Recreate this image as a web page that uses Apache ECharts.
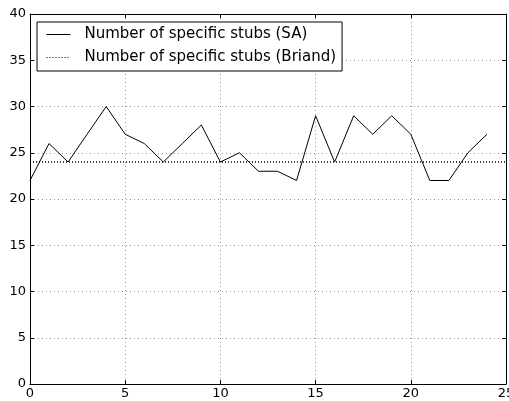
<!DOCTYPE html>
<html>
<head>
<meta charset="utf-8">
<script src="https://cdn.jsdelivr.net/npm/echarts@6/dist/echarts.min.js"></script>
<style>
  html, body { margin: 0; padding: 0; background: #fff; }
  #chart { width: 509px; height: 401px; }
</style>
</head>
<body>
<div id="chart"></div>
<script>
// Stub counts per run
const runs = [0,1,2,3,4,5,6,7,8,9,10,11,12,13,14,15,16,17,18,19,20,21,22,23,24];
const stubsSA = [22,26,24,27,30,27,26,24,26,28,24,25,23,23,22,29,24,29,27,29,27,22,22,25,27];
const briandRange = [0, 25];
const briandValue = 24;
const xTicks = [0, 5, 10, 15, 20, 25];
const yTicks = [0, 5, 10, 15, 20, 25, 30, 35, 40];

const seriesNames = ['Number of specific stubs (SA)', 'Number of specific stubs (Briand)'];

const chart = echarts.init(document.getElementById('chart'), null, { renderer: 'canvas' });

const font = 'DejaVu Sans';
const gridLine = { show: true, lineStyle: { color: '#9a9a9a', type: [1, 3], width: 1 } };

const baseX = {
  type: 'value', min: xTicks[0], max: xTicks[xTicks.length - 1], interval: 5,
  axisLine: { show: true, onZero: false, lineStyle: { color: '#000', width: 1 } },
  axisTick: { show: true, inside: true, length: 4, lineStyle: { color: '#000' } },
};
const baseY = {
  type: 'value', min: yTicks[0], max: yTicks[yTicks.length - 1], interval: 5,
  axisLine: { show: true, onZero: false, lineStyle: { color: '#000', width: 1 } },
  axisTick: { show: true, inside: true, length: 4, lineStyle: { color: '#000' } },
};

chart.setOption({
  animation: false,
  textStyle: { fontFamily: font },
  grid: { left: 30, right: 3, top: 14, bottom: 17, containLabel: false, outerBoundsMode: 'none' },
  legend: {
    left: 37, top: 22,
    orient: 'vertical',
    backgroundColor: '#fff',
    borderColor: '#000', borderWidth: 1,
    padding: [5, 6, 6, 9],
    itemWidth: 24, itemHeight: 14, itemGap: 8,
    itemStyle: { color: 'rgba(0,0,0,0)', borderWidth: 0, opacity: 0 },
    lineStyle: { width: 1 },
    textStyle: { fontFamily: font, fontSize: 15, color: '#000', padding: [0, 0, 0, 9] },
    data: seriesNames
  },
  xAxis: [
    Object.assign({}, baseX, {
      position: 'bottom',
      axisLabel: { color: '#000', fontSize: 13, fontFamily: font, margin: 3 },
      splitLine: gridLine
    }),
    Object.assign({}, baseX, {
      position: 'top',
      axisLabel: { show: false },
      splitLine: { show: false }
    })
  ],
  yAxis: [
    Object.assign({}, baseY, {
      position: 'left',
      axisLabel: { color: '#000', fontSize: 13, fontFamily: font, margin: 4 },
      splitLine: gridLine
    }),
    Object.assign({}, baseY, {
      position: 'right',
      axisLabel: { show: false },
      splitLine: { show: false }
    })
  ],
  series: [
    {
      name: seriesNames[0], type: 'line', symbol: 'none',
      data: runs.map((r, i) => [r, stubsSA[i]]),
      lineStyle: { color: '#000', width: 1 },
      itemStyle: { color: '#000' }
    },
    {
      name: seriesNames[1], type: 'line', symbol: 'none',
      data: briandRange.map(x => [x, briandValue]),
      lineStyle: { color: '#000', width: 1.5, type: [1, 2] },
      itemStyle: { color: '#000' }
    }
  ]
});
</script>
</body>
</html>
